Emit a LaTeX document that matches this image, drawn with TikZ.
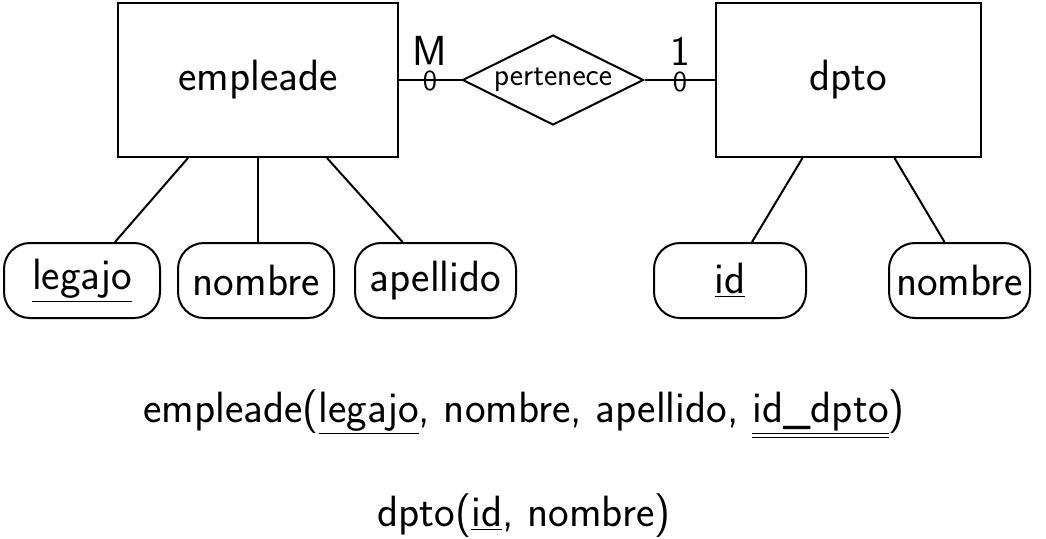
\documentclass[tikz,border=0pt]{standalone}
\usetikzlibrary{shapes.geometric,calc}
\begin{document}
\begin{tikzpicture}[x=0.5pt,y=-0.5pt,
  font=\sffamily\fontsize{21.9}{26}\selectfont,
  every path/.style={line width=1pt},
  entity/.style={draw,rectangle,inner sep=0pt,minimum height=77pt},
  rel/.style={draw,diamond,aspect=2,inner sep=0pt,minimum width=90.5pt,minimum height=45pt,font=\sffamily\fontsize{15.8}{19}\selectfont},
  attr/.style={draw,rectangle,rounded corners=13pt,inner sep=0pt,minimum height=37.5pt},
  card/.style={inner sep=0pt,font=\sffamily\fontsize{21}{24}\selectfont},
  zero/.style={inner sep=0pt,font=\sffamily\fontsize{14.5}{17}\selectfont}]
\useasboundingbox (0,0) rectangle (1046,538);
\node[entity,minimum width=140pt] (emp) at (258,80) {empleade};
\node[entity,minimum width=132.5pt] (dpto) at (848.5,80) {dpto};
\node[rel] (pert) at (553,80) {pertenece};
\draw (emp.east) -- (pert.west);
\draw (pert.east) -- (dpto.west);
\node[card] (m) at (430,51) {M};
\node[card] (one) at (680,51) {1};
\node[zero] (z1) at (430,80.5) {0};
\node[zero] (z2) at (680,81.5) {0};
\node[attr,minimum width=78pt] (legajo) at (82,280.5) {\underline{legajo}};
\node[attr,minimum width=78pt] (nom1) at (256,280.5) {nombre};
\node[attr,minimum width=80.5pt] (ape) at (435.5,280.5) {apellido};
\node[attr,minimum width=76pt] (id) at (730,280.5) {\underline{id}};
\node[attr,minimum width=70.5pt] (nom2) at (959.5,280.5) {nombre};
\draw ($(emp.south)+(-70,0)$) -- ($(legajo.north)+(33,0)$);
\draw (emp.south) -- (emp.south |- nom1.north);
\draw ($(emp.south)+(69,0)$) -- ($(ape.north)+(-33,0)$);
\draw ($(dpto.south)+(-46,0)$) -- ($(id.north)+(22,0)$);
\draw ($(dpto.south)+(46,0)$) -- ($(nom2.north)+(-15,0)$);
\node[anchor=base] (rel1) at (524,422) {empleade(\underline{legajo}, nombre, apellido, \underline{\underline{id\_dpto}})};
\node[anchor=base] (rel2) at (524,526) {dpto(\underline{id}, nombre)};
\end{tikzpicture}
\end{document}
